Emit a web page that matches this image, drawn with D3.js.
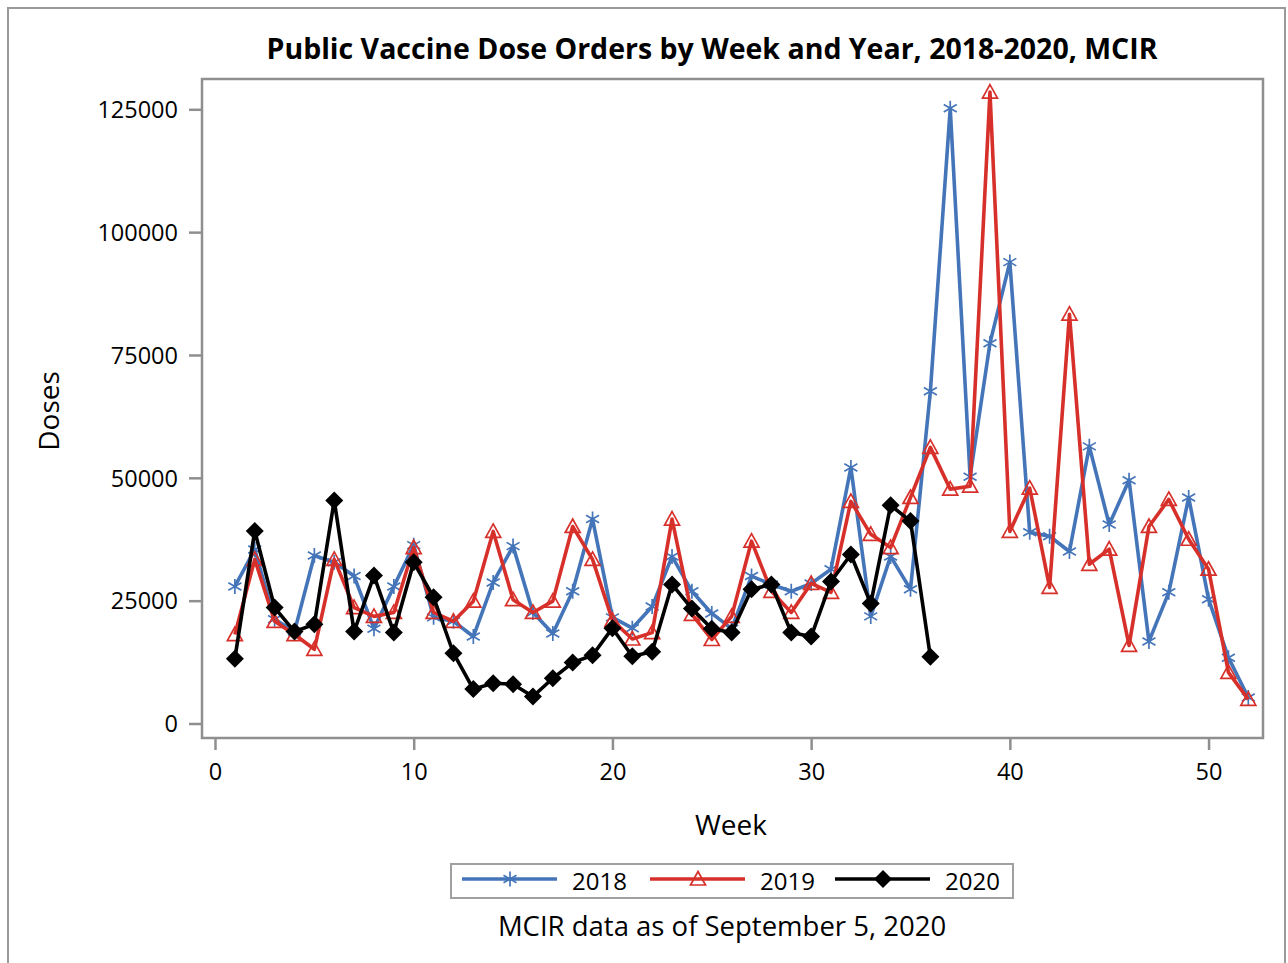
<!DOCTYPE html>
<html>
<head>
<meta charset="utf-8">
<script src="https://cdn.jsdelivr.net/npm/d3@7"></script>
<style>
  body { margin: 0; background: #fff; }
  svg text { font-family: "Open Sans", "Noto Sans", sans-serif; fill: #000; }
</style>
</head>
<body>
<svg id="chart" width="1288" height="963"></svg>
<script>
const weeks = d3.range(1, 53);
const doses2018 = [27900, 35400, 21200, 18700, 34200, 32800, 30000, 19300, 27900, 36300,
  21600, 20800, 17700, 28700, 36100, 22600, 18300, 26900, 41600, 21600,
  19400, 23800, 34000, 26900, 22400, 19300, 30000, 28300, 26900, 28500,
  31400, 52100, 21800, 34000, 27300, 67600, 125200, 50200, 77400, 93900,
  38900, 38100, 35000, 56400, 40500, 49500, 16700, 26700, 46000, 25300,
  13400, 5300];
const doses2019 = [18100, 33400, 20800, 18100, 15100, 33400, 23600, 21800, 22600, 35800,
  22600, 20800, 24900, 39100, 25200, 22600, 24900, 40100, 33400, 21000,
  17200, 18500, 41600, 22200, 17100, 21800, 37100, 26900, 22600, 28500,
  26700, 45200, 38500, 35800, 46000, 56200, 47700, 48300, 128500, 39100,
  47900, 27700, 83300, 32400, 35500, 15900, 40100, 45600, 37500, 31400,
  10400, 4900];
const doses2020 = [13200, 39200, 23600, 18700, 20200, 45400, 18700, 30100, 18500, 32800,
  25700, 14300, 7000, 8200, 8000, 5500, 9200, 12400, 13900, 19400,
  13700, 14600, 28300, 23400, 19300, 18500, 27300, 28300, 18500, 17700,
  28900, 34400, 24400, 44400, 41200, 13600];
const xTicks = [0, 10, 20, 30, 40, 50];
const yTicks = [0, 25000, 50000, 75000, 100000, 125000];
const years = ["2018", "2019", "2020"];
const colors = ["#4575b9", "#d7302a", "#000000"];

const series = [
  { name: years[0], values: doses2018, color: colors[0], marker: "asterisk" },
  { name: years[1], values: doses2019, color: colors[1], marker: "triangle" },
  { name: years[2], values: doses2020, color: colors[2], marker: "diamond" }
];

const svg = d3.select("#chart");
const grey = "#8f8f8f";

// outer frame
svg.append("rect").attr("x", 8).attr("y", 8).attr("width", 1277).attr("height", 1100)
  .attr("fill", "none").attr("stroke", "#9a9a9a").attr("stroke-width", 2);

const box = { left: 202, right: 1263, top: 79, bottom: 738 };
const x = d3.scaleLinear().domain([0, 52]).range([215, 1248.3]);
const y = d3.scaleLinear().domain([0, 125000]).range([723.5, 109.3]);

// plot box
svg.append("rect").attr("x", box.left).attr("y", box.top)
  .attr("width", box.right - box.left).attr("height", box.bottom - box.top)
  .attr("fill", "none").attr("stroke", grey).attr("stroke-width", 2.5);

// axes
const yAxis = d3.axisLeft(y).tickValues(yTicks).tickFormat(d3.format("d")).tickSize(13).tickPadding(11);
const gy = svg.append("g").attr("transform", `translate(${box.left},0)`).call(yAxis);
gy.select(".domain").remove();
gy.selectAll(".tick line").attr("stroke", grey).attr("stroke-width", 2.5);
gy.selectAll(".tick text").attr("font-size", 23.5).attr("dy", "0.35em");

const xAxis = d3.axisBottom(x).tickValues(xTicks).tickFormat(d3.format("d")).tickSize(12).tickPadding(13);
const gx = svg.append("g").attr("transform", `translate(0,${box.bottom})`).call(xAxis);
gx.select(".domain").remove();
gx.selectAll(".tick line").attr("stroke", grey).attr("stroke-width", 2.5);
gx.selectAll(".tick text").attr("font-size", 23.5);

// title & labels
svg.append("text").attr("x", 712).attr("y", 59).attr("text-anchor", "middle")
  .attr("font-size", 28.5).attr("font-weight", "bold")
  .text("Public Vaccine Dose Orders by Week and Year, 2018-2020, MCIR");
svg.append("text").attr("x", 731).attr("y", 835).attr("text-anchor", "middle")
  .attr("font-size", 28).text("Week");
svg.append("text").attr("transform", "translate(59,411) rotate(-90)").attr("text-anchor", "middle")
  .attr("font-size", 28).text("Doses");
svg.append("text").attr("x", 722).attr("y", 936).attr("text-anchor", "middle")
  .attr("font-size", 27.5).text("MCIR data as of September 5, 2020");

function drawMarker(g, type, cx, cy, color, scale) {
  const s = scale || 1;
  if (type === "asterisk") {
    const r = 7.5 * s;
    g.append("path").attr("transform", `translate(${cx},${cy})`)
      .attr("d", [90, 30, -30].map(a => {
        const rad = a * Math.PI / 180;
        const dx = r * Math.cos(rad), dy = r * Math.sin(rad);
        return `M${-dx},${-dy}L${dx},${dy}`;
      }).join(""))
      .attr("stroke", color).attr("stroke-width", 1.7).attr("fill", "none");
  } else if (type === "triangle") {
    const r = 7.5 * s;
    g.append("path").attr("transform", `translate(${cx},${cy})`)
      .attr("d", `M0,${-r}L${r},${r * 0.8}L${-r},${r * 0.8}Z`)
      .attr("stroke", color).attr("stroke-width", 1.7).attr("fill", "none");
  } else {
    const r = 9 * s;
    g.append("path").attr("transform", `translate(${cx},${cy})`)
      .attr("d", `M0,${-r}L${r},0L0,${r}L${-r},0Z`)
      .attr("fill", color);
  }
}

const line = d3.line().x((d, i) => x(weeks[i])).y(d => y(d));
series.forEach(s => {
  const g = svg.append("g");
  g.append("path").datum(s.values).attr("d", line)
    .attr("fill", "none").attr("stroke", s.color).attr("stroke-width", 3.6)
    .attr("stroke-linejoin", "round");
  s.values.forEach((v, i) => drawMarker(g, s.marker, x(weeks[i]), y(v), s.color));
});

// legend
svg.append("rect").attr("x", 451).attr("y", 864).attr("width", 562).attr("height", 34)
  .attr("fill", "none").attr("stroke", "#a0a0a0").attr("stroke-width", 2);
const legendX = [462, 650, 835];
series.forEach((s, i) => {
  const lx = legendX[i];
  const g = svg.append("g");
  g.append("line").attr("x1", lx).attr("x2", lx + 95).attr("y1", 879).attr("y2", 879)
    .attr("stroke", s.color).attr("stroke-width", 3.6);
  drawMarker(g, s.marker, lx + 48, 879, s.color);
  g.append("text").attr("x", lx + 110).attr("y", 890).attr("font-size", 24).text(s.name);
});
</script>
</body>
</html>
